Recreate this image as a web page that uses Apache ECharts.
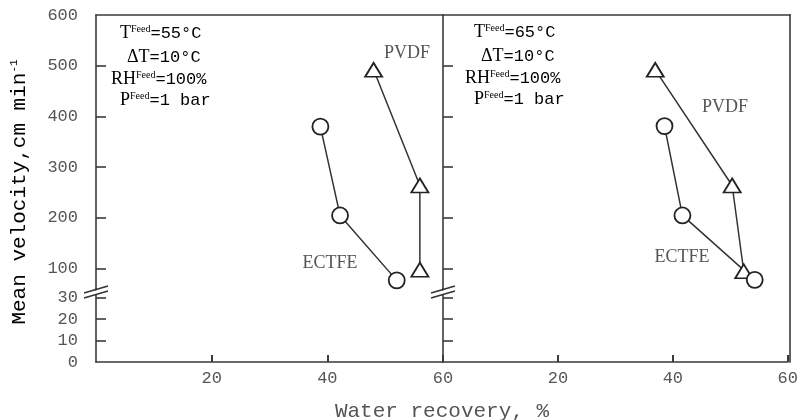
<!DOCTYPE html>
<html>
<head>
<meta charset="utf-8">
<script src="https://cdn.jsdelivr.net/npm/echarts@6/dist/echarts.min.js"></script>
<style>html,body{margin:0;padding:0;background:#fff;}#c{width:801px;height:420px;}</style>
</head>
<body>
<div id="c"></div>
<script>
// ---- data ----
const xTickValues = [20, 40, 60];
const yUpperTicks = [100, 200, 300, 400, 500, 600];
const yLowerTicks = [0, 10, 20, 30];

const ectfe55X = [38.8, 42.2, 52.0];
const ectfe55Y = [380, 205, 77];
const pvdf55X = [48.0, 56.0, 56.0];
const pvdf55Y = [492, 264, 98];

const ectfe65X = [38.3, 41.4, 53.9];
const ectfe65Y = [381, 205, 78];
const pvdf65X = [36.7, 50.0, 52.0];
const pvdf65Y = [492, 264, 95];

const panelTemps = ['55', '65'];
const seriesNames = ['PVDF', 'ECTFE'];

function zip(xs, ys) { return xs.map((x, i) => [x, ys[i]]); }

const MONO = '"Liberation Mono", "DejaVu Sans Mono", monospace';
const SERIF = '"Liberation Serif", "DejaVu Serif", serif';
const AX = '#3a3a3a';
const TXT = '#555';

const chart = echarts.init(document.getElementById('c'), null, {renderer: 'canvas'});

const grids = [
  {left: 96, top: 15, width: 347, height: 274},
  {left: 96, top: 289, width: 347, height: 73},
  {left: 443, top: 15, width: 347, height: 274},
  {left: 443, top: 289, width: 347, height: 73}
];

const lineStyle = {color: AX, width: 1.6};
const xAxes = [];
const yAxes = [];
[0, 1].forEach(p => {
  const gU = p * 2, gL = p * 2 + 1;
  xAxes.push({gridIndex: gU, type: 'value', min: 0, max: 60, position: 'top',
    axisLine: {show: true, onZero: false, lineStyle: lineStyle},
    axisTick: {show: false}, axisLabel: {show: false}, splitLine: {show: false}});
  xAxes.push({gridIndex: gL, type: 'value', min: 0, max: 60, interval: 20, position: 'bottom',
    axisLine: {show: true, onZero: false, lineStyle: lineStyle},
    axisTick: {show: true, inside: true, length: 7, customValues: xTickValues, lineStyle: {color: AX, width: 2}},
    axisLabel: {show: true, customValues: xTickValues, margin: 8, fontFamily: MONO, fontSize: 17, color: TXT},
    splitLine: {show: false}});
  yAxes.push({gridIndex: gU, type: 'value', min: 60, max: 600, position: 'left',
    axisLine: {show: true, onZero: false, lineStyle: lineStyle},
    axisTick: {show: true, inside: true, length: 10, customValues: yUpperTicks.slice(0, 5), lineStyle: lineStyle},
    axisLabel: {show: p === 0, customValues: yUpperTicks, margin: 18, fontFamily: MONO, fontSize: 17, color: TXT},
    splitLine: {show: false}});
  yAxes.push({gridIndex: gL, type: 'value', min: 0, max: 34, position: 'left',
    axisLine: {show: true, onZero: false, lineStyle: lineStyle},
    axisTick: {show: true, inside: true, length: 10, customValues: yLowerTicks.slice(1), lineStyle: lineStyle},
    axisLabel: {show: p === 0, customValues: yLowerTicks, margin: 18, fontFamily: MONO, fontSize: 17, color: TXT},
    splitLine: {show: false}});
});

function mkSeries(name, data, xi, yi, symbol, size) {
  return {
    name: name, type: 'line', xAxisIndex: xi, yAxisIndex: yi, data: data,
    symbol: symbol, symbolSize: size, showAllSymbol: true,
    lineStyle: {color: '#333', width: 1.5},
    itemStyle: {color: '#fff', borderColor: '#222', borderWidth: 1.8},
    emphasis: {disabled: true}, animation: false, z: 3
  };
}

const series = [
  mkSeries('PVDF 55', zip(pvdf55X, pvdf55Y), 0, 0, 'triangle', [17, 14]),
  mkSeries('ECTFE 55', zip(ectfe55X, ectfe55Y), 0, 0, 'circle', 16),
  mkSeries('PVDF 65', zip(pvdf65X, pvdf65Y), 2, 2, 'triangle', [17, 14]),
  mkSeries('ECTFE 65', zip(ectfe65X, ectfe65Y), 2, 2, 'circle', 16)
];

const rich = {
  s: {fontFamily: SERIF, fontSize: 18, color: TXT},
  sup: {fontFamily: SERIF, fontSize: 10, color: TXT, verticalAlign: 'top', padding: [0, 0, 8, 0]},
  m: {fontFamily: MONO, fontSize: 17, color: TXT}
};

function annot(x0, y0, temp) {
  const lines = [
    {dx: 9, text: '{s|T}{sup|Feed}{m|=' + temp + '°C}'},
    {dx: 16, text: '{s|Δ}{s|T}{m|=10°C}'},
    {dx: 0, text: '{s|RH}{sup|Feed}{m|=100%}'},
    {dx: 9, text: '{s|P}{sup|Feed}{m|=1 bar}'}
  ];
  const ys = [0, 24, 46, 67];
  return lines.map((l, i) => ({
    type: 'text', x: x0 + l.dx, y: y0 + ys[i],
    style: {text: l.text, rich: rich, textVerticalAlign: 'middle', textAlign: 'left'},
    silent: true
  }));
}

function breakMark(xc, yc) {
  return [
    {type: 'polygon', shape: {points: [[xc - 12, yc + 5], [xc + 12, yc - 2], [xc + 12, yc + 2], [xc - 12, yc + 9]]},
      style: {fill: '#fff'}, z: 10, silent: true},
    {type: 'line', shape: {x1: xc - 12, y1: yc + 4, x2: xc + 12, y2: yc - 3}, style: {stroke: '#333', lineWidth: 1.4}, z: 11, silent: true},
    {type: 'line', shape: {x1: xc - 12, y1: yc + 9, x2: xc + 12, y2: yc + 2}, style: {stroke: '#333', lineWidth: 1.4}, z: 11, silent: true}
  ];
}

const graphic = []
  .concat(annot(111, 33, panelTemps[0]))
  .concat(annot(465, 32, panelTemps[1]))
  .concat(breakMark(96, 289))
  .concat(breakMark(443, 289))
  .concat([
    // right frame edge of the right panel
    {type: 'line', shape: {x1: 790, y1: 14.2, x2: 790, y2: 362.8}, style: {stroke: AX, lineWidth: 1.6}, z: 5, silent: true},
    {type: 'text', x: 407, y: 53, style: {text: seriesNames[0], font: '18px ' + SERIF, fill: TXT, textAlign: 'center', textVerticalAlign: 'middle'}, silent: true},
    {type: 'text', x: 330, y: 263, style: {text: seriesNames[1], font: '18px ' + SERIF, fill: TXT, textAlign: 'center', textVerticalAlign: 'middle'}, silent: true},
    {type: 'text', x: 725, y: 107, style: {text: seriesNames[0], font: '18px ' + SERIF, fill: TXT, textAlign: 'center', textVerticalAlign: 'middle'}, silent: true},
    {type: 'text', x: 682, y: 257, style: {text: seriesNames[1], font: '18px ' + SERIF, fill: TXT, textAlign: 'center', textVerticalAlign: 'middle'}, silent: true},
    {type: 'text', x: 442, y: 411, style: {text: 'Water recovery, %', font: '21px ' + MONO, fill: TXT, textAlign: 'center', textVerticalAlign: 'middle'}, silent: true},
    {type: 'text', x: 19, y: 192, rotation: Math.PI / 2,
      style: {text: '{t|Mean velocity,cm min}{sup|-1}', textAlign: 'center', textVerticalAlign: 'middle',
        rich: {t: {fontFamily: MONO, fontSize: 21, color: TXT}, sup: {fontFamily: MONO, fontSize: 11, color: TXT, verticalAlign: 'top', padding: [0, 0, 10, 0]}}},
      silent: true}
  ]);

chart.setOption({
  animation: false,
  backgroundColor: '#fff',
  grid: grids,
  xAxis: xAxes,
  yAxis: yAxes,
  series: series,
  graphic: graphic
});
</script>
</body>
</html>
